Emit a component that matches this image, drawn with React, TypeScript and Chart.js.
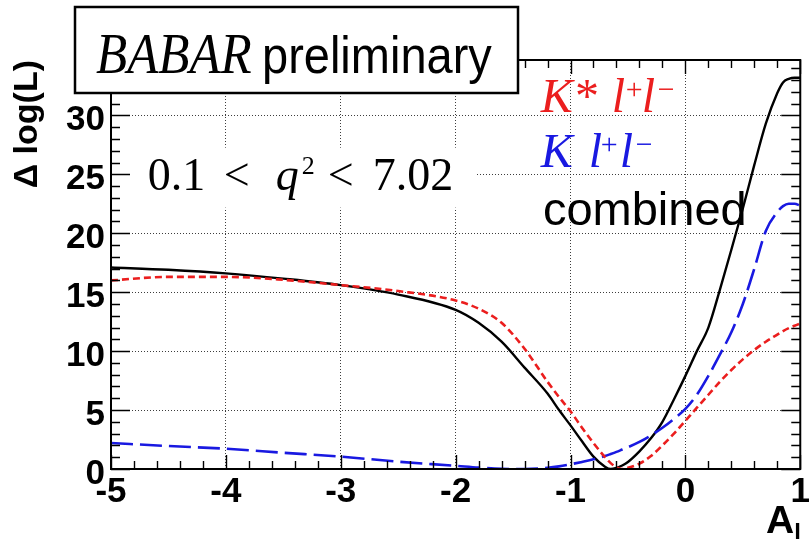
import { useEffect, useRef } from 'react';
import { Chart, registerables } from 'chart.js';

Chart.register(...registerables);

// ---- data ----
const aL = [-5, -4.5, -4, -3.5, -3, -2.5, -2, -1.8, -1.6, -1.4, -1.2, -1.1, -1.0, -0.9, -0.8, -0.7, -0.65, -0.6, -0.55, -0.5, -0.4, -0.3, -0.2, -0.1, 0, 0.1, 0.2, 0.3, 0.4, 0.5, 0.6, 0.7, 0.8, 0.85, 0.9, 0.95, 1.0];

const combined = [17.1, 16.9, 16.6, 16.15, 15.6, 14.8, 13.5, 12.4, 10.8, 8.6, 6.4, 5.0, 3.7, 2.35, 1.05, 0.2, 0.0, 0.1, 0.3, 0.6, 1.5, 2.6, 4.0, 5.9, 7.9, 10.0, 12.0, 15.2, 18.6, 22.1, 25.8, 29.3, 31.9, 32.8, 33.1, 33.2, 33.2];

const kstarLL = [16.0, 16.3, 16.3, 16.05, 15.6, 15.1, 14.3, 13.6, 12.4, 10.2, 7.4, 6.1, 4.9, 3.5, 2.2, 1.0, 0.5, 0.15, 0.0, 0.1, 0.45, 1.1, 2.0, 3.0, 4.1, 5.2, 6.3, 7.4, 8.4, 9.3, 10.1, 10.8, 11.4, 11.7, 11.95, 12.15, 12.35];

const kLL = [2.2, 1.95, 1.72, 1.38, 1.05, 0.62, 0.27, 0.12, 0.02, 0.0, 0.1, 0.22, 0.4, 0.6, 0.82, 1.1, 1.27, 1.45, 1.65, 1.85, 2.3, 2.85, 3.5, 4.25, 5.1, 6.3, 7.9, 9.7, 11.6, 14.0, 17.0, 20.2, 21.8, 22.3, 22.5, 22.5, 22.35];

const xMin = -5;
const xMax = 1;
const xMajorStep = 1;
const xMinorStep = 0.2;
const yMin = 0;
const yMax = 34.7;
const yMajorStep = 5;
const yMinorStep = 1;

const yTitle = 'Δ log(L)';

const RED = 'rgb(235,30,30)';
const BLUE = 'rgb(25,25,225)';
const BLACK = '#000';
const GRID = 'rgba(40,40,40,0.9)';

const SANS = '"Liberation Sans", Arial, sans-serif';
const SERIF = '"Liberation Serif", "DejaVu Serif", serif';

const pts = (ys: number[]) => aL.map((x, i) => ({ x, y: ys[i] }));

function txt(ctx: CanvasRenderingContext2D, t: string, font: string, x: number, y: number, color: string) {
  ctx.font = font;
  ctx.fillStyle = color;
  ctx.textAlign = 'left';
  ctx.textBaseline = 'alphabetic';
  ctx.fillText(t, x, y);
}

const framePlugin = {
  id: 'rootFrame',
  afterDatasetsDraw(chart: any) {
    const { ctx, chartArea: a, scales } = chart;
    const xs = scales.x;
    const ys = scales.y;
    ctx.save();
    ctx.strokeStyle = BLACK;
    ctx.lineWidth = 1.4;
    ctx.beginPath();
    const nY = Math.floor((yMax - yMin) / yMinorStep + 1e-6);
    for (let i = 0; i <= nY; i++) {
      const v = yMin + i * yMinorStep;
      const py = Math.round(ys.getPixelForValue(v)) + 0.5;
      const major = Math.abs(v / yMajorStep - Math.round(v / yMajorStep)) < 1e-6;
      const len = major ? 19 : 9;
      ctx.moveTo(a.left, py);
      ctx.lineTo(a.left + len, py);
      ctx.moveTo(a.right, py);
      ctx.lineTo(a.right - len, py);
    }
    const nX = Math.round((xMax - xMin) / xMinorStep);
    for (let i = 0; i <= nX; i++) {
      const v = xMin + i * xMinorStep;
      const px = Math.round(xs.getPixelForValue(v)) + 0.5;
      const major = Math.abs(v / xMajorStep - Math.round(v / xMajorStep)) < 1e-6;
      const len = major ? 14 : 8;
      ctx.moveTo(px, a.bottom);
      ctx.lineTo(px, a.bottom - len);
      ctx.moveTo(px, a.top);
      ctx.lineTo(px, a.top + len);
    }
    ctx.stroke();
    ctx.lineWidth = 2;
    ctx.strokeRect(a.left, a.top, a.right - a.left, a.bottom - a.top);
    ctx.restore();
  },
  afterDraw(chart: any) {
    const { ctx, chartArea: a, scales } = chart;
    const xs = scales.x;
    const ys = scales.y;
    ctx.save();

    // y axis title (rotated, ending at the top of the frame)
    ctx.save();
    ctx.translate(37, a.top);
    ctx.rotate(-Math.PI / 2);
    ctx.font = `bold 34px ${SANS}`;
    ctx.fillStyle = BLACK;
    ctx.textAlign = 'right';
    ctx.textBaseline = 'alphabetic';
    ctx.fillText(yTitle, 0, 0);
    ctx.restore();

    // q^2 range label with white background
    const qx = xs.getPixelForValue(-4.68);
    const qy = ys.getPixelForValue(23.7);
    ctx.fillStyle = '#fff';
    ctx.fillRect(qx - 17, qy - 42, 346, 60);
    txt(ctx, '0.1', `46px ${SERIF}`, qx, qy, BLACK);
    txt(ctx, '<', `46px ${SERIF}`, qx + 76, qy, BLACK);
    txt(ctx, 'q', `italic 46px ${SERIF}`, qx + 128, qy, BLACK);
    txt(ctx, '2', `26px ${SERIF}`, qx + 154, qy - 16, BLACK);
    txt(ctx, '<', `46px ${SERIF}`, qx + 180, qy, BLACK);
    txt(ctx, '7.02', `46px ${SERIF}`, qx + 225, qy, BLACK);

    // legend texts
    const lx = xs.getPixelForValue(-1.26);
    const it = `italic 48px ${SERIF}`;
    const sup = `30px ${SERIF}`;
    const y1 = ys.getPixelForValue(30.3);
    txt(ctx, 'K*', it, lx, y1, RED);
    txt(ctx, 'l', it, lx + 71, y1, RED);
    txt(ctx, '+', sup, lx + 85, y1 - 13, RED);
    txt(ctx, 'l', it, lx + 101, y1, RED);
    txt(ctx, '−', sup, lx + 117, y1 - 13, RED);
    const y2 = ys.getPixelForValue(25.6);
    txt(ctx, 'K', it, lx, y2, BLUE);
    txt(ctx, 'l', it, lx + 48, y2, BLUE);
    txt(ctx, '+', sup, lx + 60, y2 - 13, BLUE);
    txt(ctx, 'l', it, lx + 79, y2, BLUE);
    txt(ctx, '−', sup, lx + 95, y2 - 13, BLUE);
    txt(ctx, 'combined', `47px ${SANS}`, xs.getPixelForValue(-1.24), ys.getPixelForValue(20.7), BLACK);

    // x axis title A_l
    ctx.fillStyle = BLACK;
    ctx.textAlign = 'right';
    ctx.textBaseline = 'alphabetic';
    ctx.font = `bold 39px ${SANS}`;
    const ax = a.right - 6;
    ctx.fillText('A', ax, a.bottom + 64);
    ctx.textAlign = 'left';
    ctx.font = `bold 24px ${SANS}`;
    ctx.fillText('l', ax, a.bottom + 72);

    // BABAR preliminary box
    const bx = 75, by = 7, bw = 443, bh = 86;
    ctx.fillStyle = '#fff';
    ctx.fillRect(bx, by, bw, bh);
    ctx.strokeStyle = BLACK;
    ctx.lineWidth = 2.5;
    ctx.strokeRect(bx, by, bw, bh);
    ctx.save();
    ctx.translate(bx + 21, by + 66);
    ctx.scale(1, 1.12);
    txt(ctx, 'BABAR', `italic 51px ${SERIF}`, 0, 0, BLACK);
    txt(ctx, 'preliminary', `47px ${SANS}`, 166, 0, BLACK);
    ctx.restore();

    ctx.restore();
  },
};

const tickFont = { family: SANS, size: 35, weight: 'bold' as const };

export default function App() {
  const ref = useRef<HTMLCanvasElement>(null);
  useEffect(() => {
    document.body.style.margin = '0';
    const canvas = ref.current!;
    const chart = new Chart(canvas, {
      type: 'line',
      data: {
        datasets: [
          {
            label: 'K* l+l−',
            data: pts(kstarLL),
            borderColor: RED,
            borderWidth: 2.6,
            borderDash: [7, 4],
            pointRadius: 0,
            cubicInterpolationMode: 'monotone',
            fill: false,
          },
          {
            label: 'K l+l−',
            data: pts(kLL),
            borderColor: BLUE,
            borderWidth: 2.6,
            borderDash: [22, 7],
            pointRadius: 0,
            cubicInterpolationMode: 'monotone',
            fill: false,
          },
          {
            label: 'combined',
            data: pts(combined),
            borderColor: BLACK,
            borderWidth: 2.4,
            pointRadius: 0,
            cubicInterpolationMode: 'monotone',
            fill: false,
          },
        ],
      },
      options: {
        responsive: false,
        animation: false,
        events: [],
        layout: { padding: { top: 60, right: 9, left: 0, bottom: 0 } },
        plugins: { legend: { display: false }, tooltip: { enabled: false } },
        scales: {
          x: {
            type: 'linear',
            min: xMin,
            max: xMax,
            ticks: {
              stepSize: xMajorStep,
              font: tickFont,
              color: BLACK,
              padding: 2,
              maxRotation: 0,
              autoSkip: false,
              includeBounds: false,
            },
            grid: {
              drawTicks: false,
              lineWidth: 1,
              color: (c: any) =>
                c.tick && (c.tick.value === xMin || c.tick.value === xMax) ? 'rgba(0,0,0,0)' : GRID,
            },
            border: { display: false, dash: [1, 2] },
            afterFit: (s: any) => {
              s.height = 70;
            },
          },
          y: {
            type: 'linear',
            min: yMin,
            max: yMax,
            ticks: {
              stepSize: yMajorStep,
              font: tickFont,
              color: BLACK,
              padding: 6,
              labelOffset: 5,
              includeBounds: false,
            },
            grid: {
              drawTicks: false,
              lineWidth: 1,
              color: (c: any) => (c.tick && c.tick.value === yMin ? 'rgba(0,0,0,0)' : GRID),
            },
            border: { display: false, dash: [1, 2] },
            afterFit: (s: any) => {
              s.width = 111;
            },
          },
        },
      },
      plugins: [framePlugin],
    });
    return () => chart.destroy();
  }, []);
  return (
    <div style={{ width: 812, height: 539, background: '#fff' }}>
      <canvas ref={ref} width={812} height={539} style={{ display: 'block' }} />
    </div>
  );
}
